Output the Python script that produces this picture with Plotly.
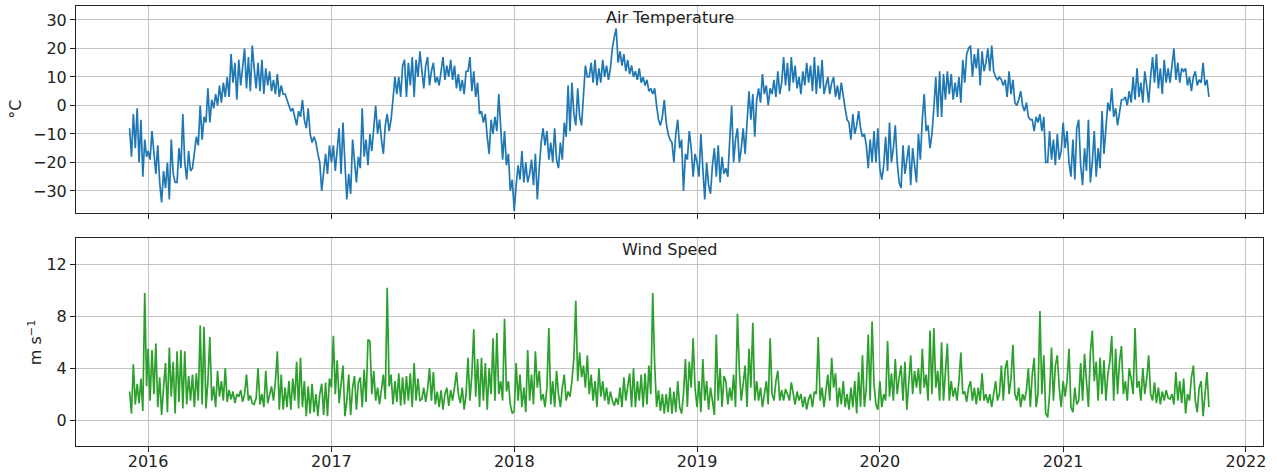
"""Air temperature and wind speed, daily-ish series in two stacked panels."""

import pandas as pd
import plotly.graph_objects as go

BLUE = "#1f77b4"
GREEN = "#2ca02c"
GRID = "#c4c4c4"
INK = "#222222"
FONT = "DejaVu Sans, Verdana, sans-serif"

# ── data (≈8 values per month) ──

spans = [
    ("2015-11-25", "2015-12-29"),
    ("2016-01-01", "2016-12-28"),
    ("2017-01-01", "2017-12-28"),
    ("2018-01-01", "2018-12-28"),
    ("2019-01-01", "2019-12-28"),
    ("2020-01-01", "2020-12-28"),
    ("2021-01-01", "2021-10-19"),
]

temp_2015 = [-8, -18, -3, -15, -1, -20, -5, -25, -12, -18]
temp_2016 = [
    -16, -19, -9, -17, -24, -14, -27, -34,    # Jan
    -23, -29, -20, -33, -12, -24, -27,        # Feb
    -27, -15, -22, -3, -20, -26, -16, -23,    # Mar
    -22, -17, -11, -14, 0, -12, -4, -6,       # Apr
    6, -6, 2, -1, 4, 0, 7, 1,                 # May
    8, 3, 10, 3, 18, 8, 15, 2,                # Jun
    16, 7, 13, 20, 6, 17, 5, 21,              # Jul
    13, 6, 15, 5, 16, 4, 13, 7,               # Aug
    12, 5, 9, 4, 11, 3, 7, 4,                 # Sep
    4, 2, 0, -2, -1, -4, -7, -2,              # Oct
    -4, 2, -5, -8, -1, -10, -13, -11,         # Nov
    -13, -17, -20, -30, -22, -17, -24, -14,   # Dec
]
temp_2017 = [
    -20, -14, -23, -16, -8, -24, -6, -20,
    -33, -24, -31, -12, -20, -27, -18,
    -22, -1, -18, -12, -21, -10, -16, -8,
    0, -10, -5, -12, -17, -7, -3, -9,
    -5, 2, 10, 4, 10, 3, 14, 16,
    3, 15, 7, 17, 3, 16, 10, 19,
    12, 6, 14, 17, 7, 12, 15, 8,
    10, 7, 12, 17, 9, 14, 10, 16,
    9, 14, 6, 11, 5, 9, 4, 12,
    12, 17, 5, 12, 3, 8, -3, -2,
    -6, -3, -11, -17, -5, -10, -4, -9,
    4, -10, -19, -9, -21, -17, -30, -26,
]
temp_2018 = [
    -37, -28, -21, -26, -16, -27, -20, -27,
    -24, -19, -28, -17, -33, -22, -13,
    -8, -14, -9, -19, -13, -20, -8, -19,
    -22, -13, -19, -6, -11, 7, -9, 8,
    -3, -7, 6, -4, -7, 5, 14, 10,
    10, 15, 8, 16, 7, 13, 8, 16,
    10, 14, 9, 13, 20, 24, 27, 15,
    19, 14, 18, 12, 16, 11, 14, 10,
    12, 9, 13, 8, 10, 7, 9, 5,
    6, 4, 6, 0, -5, -7, -4, 2,
    -6, -10, -12, -13, -20, -10, -5, -15,
    -12, -30, -17, -19, -9, -15, -25, -17,
]
temp_2019 = [
    -20, -25, -10, -22, -33, -20, -28, -31,
    -21, -15, -25, -14, -27, -18, -24,
    -22, -25, -12, 0, -20, -12, -8, -20,
    -15, -8, -17, -5, 5, -5, 4, -11,
    2, 6, 1, 11, 4, 7, 0, 6,
    4, 9, 3, 12, 4, 8, 17, 7,
    15, 5, 17, 8, 14, 6, 10, 4,
    12, 7, 15, 8, 14, 5, 17, 4,
    14, 6, 16, 4, 7, 10, 4, 8,
    10, 3, 7, 2, 8, 3, -1, -5,
    -6, -12, -3, -10, -7, -2, -8, -11,
    -10, -14, -22, -12, -20, -9, -20, -8,
]
temp_2020 = [
    -22, -26, -21, -11, -23, -6, -20, -15,
    -7, -20, -27, -29, -14, -24, -18,
    -14, -28, -15, -21, -27, -10, -19, -5,
    4, -9, -7, -15, -10, -1, 10, -4,
    12, -4, 11, 2, 12, 4, 11, 2,
    8, 3, 10, 1, 16, 8, 18, 20,
    21, 10, 18, 13, 20, 7, 19, 12,
    15, 20, 12, 21, 12, 10, 9, 10,
    9, 7, 9, 3, 12, 4, 9, 1,
    0, 2, 5, 0, -2, 1, -4, -5,
    -5, -9, -4, -6, -3, -9, -4, -20,
    -20, -9, -19, -12, -21, -10, -19, -16,
]
temp_2021 = [
    -6, -15, -9, -20, -25, -12, -26, -8,
    -5, -21, -28, -15, -23, -5, -27,
    -20, -9, -25, -15, -22, -2, -17, -6,
    1, -2, 6, -4, -1, -7, -3, 2,
    2, 3, 0, 5, 1, 10, 2, 13,
    3, 8, 1, 12, 7, 1, 10, 17,
    8, 18, 6, 13, 4, 16, 8, 13,
    8, 14, 20, 9, 15, 8, 13, 12,
    13, 7, 10, 5, 10, 12, 7, 9,
    8, 15, 7, 9, 3,                           # Oct 1-19
]

wind_2015 = [2.2, 0.5, 4.3, 1.2, 2.8, 1.3, 3.2, 0.7, 9.8, 2.6]
wind_2016 = [
    5.5, 1.5, 5.4, 2.0, 5.9, 1.0, 3.3, 0.4,   # Jan
    2.5, 4.4, 0.6, 5.6, 1.8, 4.5, 0.5,        # Feb
    5.3, 1.4, 5.4, 0.9, 5.3, 1.2, 3.4, 1.5,   # Mar
    3.5, 1.0, 3.6, 1.5, 7.3, 1.2, 7.2, 0.9,   # Apr
    3.0, 6.4, 1.5, 2.6, 1.0, 3.8, 1.8, 3.0,   # May
    1.5, 4.0, 1.4, 2.3, 1.6, 2.2, 1.3, 2.0,   # Jun
    1.8, 2.3, 1.4, 2.0, 3.5, 1.5, 1.9, 1.3,   # Jul
    1.2, 1.7, 4.0, 1.2, 2.0, 1.0, 3.8, 1.3,   # Aug
    2.0, 2.6, 1.5, 3.0, 5.3, 0.8, 3.5, 0.8,   # Sep
    2.5, 1.0, 3.0, 0.8, 3.2, 1.5, 4.5, 0.9,   # Oct
    4.8, 1.0, 3.0, 0.3, 2.6, 0.5, 2.8, 0.6,   # Nov
    2.0, 0.3, 2.0, 2.8, 0.4, 2.9, 0.3, 3.2,   # Dec
]
wind_2017 = [
    2.5, 6.5, 2.0, 4.6, 1.3, 3.0, 4.2, 0.3,
    1.5, 3.5, 0.4, 2.5, 3.4, 0.8, 2.9,
    3.3, 1.0, 3.9, 1.4, 6.2, 6.1, 2.0, 3.8,
    1.5, 2.5, 1.2, 2.6, 3.5, 1.6, 10.2, 2.6,
    3.5, 1.2, 3.0, 1.4, 3.6, 1.1, 3.3, 1.2,
    3.4, 1.5, 3.6, 1.0, 4.4, 1.5, 3.2, 1.5,
    1.6, 2.5, 1.4, 2.4, 4.0, 1.5, 3.7, 1.2,
    2.2, 1.0, 2.3, 0.8, 2.0, 2.5, 1.1, 2.3,
    1.5, 2.5, 3.7, 2.0, 1.3, 2.5, 0.8, 2.0,
    4.8, 1.5, 3.5, 7.0, 1.8, 4.7, 1.0, 4.8,
    1.5, 4.4, 0.8, 4.0, 2.0, 6.3, 1.5, 6.7,
    2.0, 3.0, 1.5, 7.8, 2.2, 3.0, 1.2, 0.5,
]
wind_2018 = [
    0.7, 4.4, 1.5, 3.5, 1.0, 2.5, 0.6, 5.4,
    1.5, 3.5, 1.2, 5.3, 2.5, 3.8, 1.5,
    2.0, 1.0, 2.5, 7.1, 1.2, 3.0, 1.0, 3.8,
    2.0, 1.0, 2.5, 3.5, 1.5, 2.2, 1.8, 3.0,
    4.8, 9.2, 3.0, 5.2, 3.3, 4.2, 2.5, 5.0,
    2.0, 3.5, 1.5, 3.0, 1.0, 4.0, 1.8, 3.0,
    1.5, 2.5, 1.2, 2.2, 1.5, 1.1, 1.7, 1.2,
    2.5, 1.0, 3.3, 1.5, 2.6, 3.6, 1.0, 4.0,
    1.0, 3.0, 1.5, 3.5, 1.0, 3.6, 1.2, 4.2,
    2.0, 9.8, 4.3, 1.0, 2.3, 0.7, 2.0, 0.5,
    2.0, 0.6, 2.5, 0.5, 2.2, 0.6, 3.0, 1.0,
    0.5, 2.0, 4.7, 1.0, 4.5, 2.5, 6.3, 2.5,
]
wind_2019 = [
    1.0, 3.0, 0.6, 4.7, 1.5, 3.0, 0.8, 2.5,
    1.5, 0.4, 6.6, 1.5, 4.0, 1.0, 3.4,
    3.0, 1.2, 2.5, 1.5, 3.5, 1.0, 8.2, 3.8,
    1.5, 2.8, 4.2, 1.0, 5.5, 2.5, 7.5, 1.5,
    3.0, 1.5, 2.5, 1.0, 2.2, 3.0, 1.2, 6.3,
    2.0, 1.5, 3.0, 3.8, 1.5, 2.3, 1.5, 2.4,
    2.0, 1.5, 2.9, 2.0, 1.2, 2.2, 1.5, 2.0,
    1.0, 1.8, 0.8, 1.6, 2.0, 1.0, 2.2, 2.0,
    6.4, 1.5, 2.5, 1.0, 2.5, 3.5, 1.5, 4.8,
    2.5, 3.6, 1.0, 2.5, 1.2, 3.0, 1.0, 2.0,
    0.8, 2.5, 1.0, 3.0, 0.5, 3.7, 1.0, 5.0,
    1.0, 2.5, 6.6, 1.5, 7.6, 2.8, 1.2, 0.8,
]
wind_2020 = [
    3.0, 1.0, 2.0, 1.5, 6.1, 1.8, 3.6, 1.5,
    4.7, 2.0, 3.3, 4.2, 1.5, 4.5, 0.8,
    3.0, 5.0, 2.0, 3.8, 2.5, 4.0, 2.0, 5.5,
    2.5, 3.5, 1.5, 6.9, 2.0, 7.1, 2.5, 3.8,
    1.5, 6.0, 1.5, 3.5, 5.9, 1.5, 3.0, 1.8,
    2.5, 1.5, 3.0, 5.2, 2.0, 2.2, 1.4, 2.5,
    3.0, 1.5, 2.5, 1.2, 2.5, 1.5, 3.6, 1.5,
    2.0, 1.3, 2.0, 1.0, 2.2, 3.0, 1.5, 2.0,
    4.2, 1.5, 4.0, 4.6, 2.0, 3.2, 5.8, 2.0,
    1.5, 2.5, 1.0, 2.0, 1.5, 2.3, 4.0, 1.0,
    3.5, 4.8, 1.0, 2.0, 8.4, 2.0, 5.0, 0.5,
    0.2, 2.0, 5.6, 1.5, 4.2, 5.0, 2.5, 1.0,
]
wind_2021 = [
    3.0, 1.8, 3.0, 5.5, 1.0, 0.6, 2.5, 1.2,
    1.5, 4.4, 1.5, 5.1, 3.0, 1.0, 5.2,
    6.9, 3.0, 4.5, 1.5, 4.8, 2.0, 4.6, 1.5,
    3.5, 4.5, 6.5, 1.5, 5.5, 2.0, 4.5, 5.7,
    2.0, 3.0, 1.5, 4.0, 3.2, 2.0, 7.1, 2.5,
    3.0, 1.5, 4.0, 2.0, 3.2, 5.0, 2.0, 1.5,
    2.9, 1.3, 2.5, 1.2, 2.2, 1.5, 2.3, 1.7,
    1.6, 2.0, 1.2, 3.7, 1.5, 3.0, 1.3, 3.2,
    0.5, 2.0, 1.5, 3.3, 4.2, 1.5, 0.6, 2.5,
    3.0, 0.3, 2.0, 3.7, 1.0,
]

temp_years = [temp_2015, temp_2016, temp_2017, temp_2018, temp_2019, temp_2020, temp_2021]
wind_years = [wind_2015, wind_2016, wind_2017, wind_2018, wind_2019, wind_2020, wind_2021]

year_ticks = ["2016", "2017", "2018", "2019", "2020", "2021", "2022"]
temp_ticks = [-30, -20, -10, 0, 10, 20, 30]
wind_ticks = [0, 4, 8, 12]


def _stack(chunks):
    xs, ys = [], []
    for (start, end), vals in zip(spans, chunks):
        xs.extend(pd.date_range(start, end, periods=len(vals)))
        ys.extend(vals)
    return xs, ys


def _fmt(v):
    return str(v).replace("-", "\u2212")


t_x, t_y = _stack(temp_years)
w_x, w_y = _stack(wind_years)

fig = go.Figure()
fig.add_trace(go.Scatter(
    x=t_x, y=t_y, mode="lines", xaxis="x", yaxis="y",
    line=dict(color=BLUE, width=1.7),
))
fig.add_trace(go.Scatter(
    x=w_x, y=w_y, mode="lines", xaxis="x2", yaxis="y2",
    line=dict(color=GREEN, width=1.7),
))

x_common = dict(
    type="date",
    range=["2015-08-10", "2022-02-04"],
    tickvals=[y + "-01-01" for y in year_ticks],
    ticktext=year_ticks,
    showgrid=True, gridcolor=GRID, gridwidth=1,
    showline=True, linecolor=INK, linewidth=1, mirror=True,
    ticks="outside", ticklen=5, tickcolor=INK,
    tickfont=dict(size=16, color=INK),
    zeroline=False, automargin=False,
)
y_common = dict(
    showgrid=True, gridcolor=GRID, gridwidth=1,
    showline=True, linecolor=INK, linewidth=1, mirror=True,
    ticks="outside", ticklen=5, tickcolor=INK,
    tickfont=dict(size=16, color=INK),
    zeroline=False, automargin=False,
)

fig.update_layout(
    width=1277, height=473,
    margin=dict(l=76, r=14, t=6, b=27),
    paper_bgcolor="white", plot_bgcolor="white",
    font=dict(family=FONT, color=INK, size=16),
    showlegend=False,
    xaxis=dict(x_common, anchor="y", showticklabels=False),
    yaxis=dict(y_common, domain=[0.5285, 1], range=[-37.9, 34.9],
               tickvals=temp_ticks, ticktext=[_fmt(v) for v in temp_ticks]),
    xaxis2=dict(x_common, anchor="y2", matches="x", ticklabelstandoff=-4),
    yaxis2=dict(y_common, domain=[0, 0.4717], range=[-2, 14],
                tickvals=wind_ticks, ticktext=[_fmt(v) for v in wind_ticks]),
)

fig.add_annotation(text="Air Temperature", xref="x domain", yref="y domain",
                   x=0.5, y=1, yanchor="top", yshift=0, showarrow=False,
                   font=dict(size=16, color=INK))
fig.add_annotation(text="Wind Speed", xref="x2 domain", yref="y2 domain",
                   x=0.5, y=1, yanchor="top", yshift=0, showarrow=False,
                   font=dict(size=16, color=INK))
fig.add_annotation(text="°C", xref="paper", yref="y domain", x=0, y=0.5,
                   xanchor="center", xshift=-60, textangle=-90, showarrow=False,
                   font=dict(size=16, color=INK))
fig.add_annotation(text="m s<sup>\u22121</sup>", xref="paper", yref="y2 domain",
                   x=0, y=0.5, xanchor="center", xshift=-41, textangle=-90,
                   showarrow=False, font=dict(size=16, color=INK))

# the page body has a default 8px margin; drop it so the figure sits at 0,0
fig.write_html("out.html", config={"displayModeBar": False},
               post_script="document.body.style.margin='0';")
